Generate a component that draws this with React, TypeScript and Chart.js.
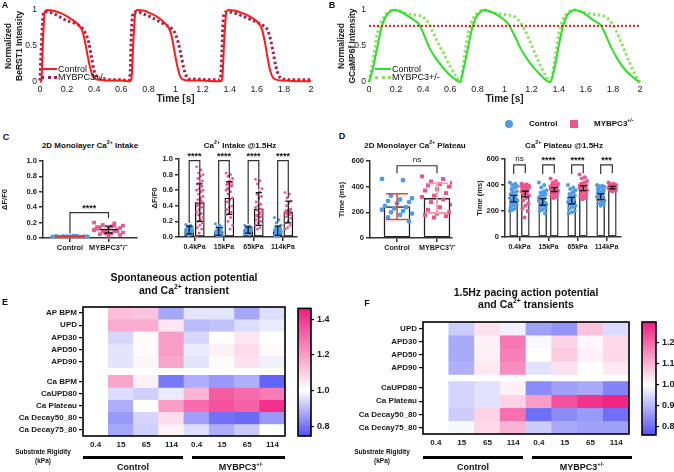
import React, { useEffect, useRef } from 'react';
import { Chart, registerables } from 'chart.js';

Chart.register(...registerables);
const FONT = "'Liberation Sans', Arial, Helvetica, sans-serif";
Chart.defaults.font.family = FONT;
Chart.defaults.color = '#1a1a1a';

// ---------------- Panel A data (BeRST1) ----------------
const tCtrlA = [0, 0.01, 0.02, 0.035, 0.05, 0.1, 0.15, 0.2, 0.25, 0.29, 0.31, 0.33, 0.35, 0.37, 0.39, 0.41, 0.45, 0.5, 0.6, 0.665,
  0.675, 0.69, 0.705, 0.72, 0.77, 0.82, 0.87, 0.92, 0.95, 0.97, 0.99, 1.01, 1.03, 1.05, 1.1, 1.2, 1.3, 1.335,
  1.345, 1.36, 1.375, 1.39, 1.44, 1.49, 1.54, 1.59, 1.62, 1.64, 1.66, 1.68, 1.7, 1.72, 1.75, 1.8, 1.9, 2.0];
const vCtrlA = [0, 0.02, 0.5, 0.97, 1.0, 0.99, 0.96, 0.91, 0.85, 0.78, 0.72, 0.58, 0.38, 0.2, 0.08, 0.04, 0.03, 0.02, 0.02, 0.01,
  0.05, 0.6, 0.98, 1.0, 0.99, 0.95, 0.9, 0.82, 0.75, 0.65, 0.45, 0.25, 0.1, 0.04, 0.02, 0.02, 0.01, 0.01,
  0.05, 0.6, 0.97, 1.0, 0.99, 0.96, 0.92, 0.86, 0.8, 0.72, 0.55, 0.33, 0.15, 0.06, 0.03, 0.02, 0.01, 0.01];
const tMybA = [0, 0.01, 0.025, 0.04, 0.1, 0.15, 0.2, 0.25, 0.3, 0.33, 0.36, 0.38, 0.4, 0.42, 0.45, 0.5, 0.6, 0.655,
  0.665, 0.675, 0.69, 0.72, 0.77, 0.82, 0.87, 0.92, 0.96, 0.99, 1.02, 1.04, 1.06, 1.08, 1.1, 1.15, 1.25, 1.33,
  1.34, 1.35, 1.365, 1.4, 1.45, 1.5, 1.55, 1.6, 1.65, 1.68, 1.7, 1.72, 1.74, 1.76, 1.78, 1.85, 1.95, 2.0];
const vMybA = [0.02, 0.5, 0.95, 0.98, 0.95, 0.9, 0.85, 0.82, 0.77, 0.7, 0.55, 0.35, 0.15, 0.06, 0.04, 0.03, 0.03, 0.02,
  0.1, 0.7, 0.97, 0.97, 0.94, 0.9, 0.85, 0.8, 0.76, 0.7, 0.55, 0.38, 0.2, 0.08, 0.04, 0.04, 0.03, 0.03,
  0.3, 0.8, 0.97, 0.97, 0.95, 0.91, 0.87, 0.83, 0.78, 0.72, 0.6, 0.42, 0.22, 0.1, 0.05, 0.03, 0.03, 0.03];

// ---------------- Panel B data (GCaMP6f) ----------------
const tCtrlB = [0, 0.03, 0.06, 0.09, 0.12, 0.15, 0.18, 0.22, 0.26, 0.3, 0.34, 0.37, 0.4, 0.45, 0.5, 0.55, 0.6, 0.65, 0.67,
  0.7, 0.73, 0.76, 0.79, 0.82, 0.85, 0.89, 0.93, 0.97, 1.0, 1.03, 1.07, 1.12, 1.17, 1.22, 1.27, 1.31, 1.335,
  1.37, 1.4, 1.43, 1.46, 1.49, 1.52, 1.56, 1.6, 1.64, 1.68, 1.71, 1.74, 1.79, 1.84, 1.89, 1.94, 1.98, 2.0];
const vCtrlB = [0, 0.2, 0.47, 0.74, 0.9, 0.97, 1.0, 0.99, 0.95, 0.9, 0.85, 0.8, 0.68, 0.46, 0.31, 0.19, 0.09, 0.02, 0,
  0.2, 0.47, 0.74, 0.9, 0.97, 1.0, 0.98, 0.95, 0.9, 0.86, 0.8, 0.66, 0.46, 0.31, 0.19, 0.09, 0.02, 0,
  0.2, 0.5, 0.76, 0.92, 0.98, 1.0, 0.98, 0.94, 0.88, 0.83, 0.79, 0.68, 0.47, 0.3, 0.17, 0.08, 0.02, 0];
const tMybB = [0, 0.03, 0.06, 0.09, 0.12, 0.15, 0.18, 0.22, 0.26, 0.3, 0.35, 0.4, 0.44, 0.47, 0.5, 0.55, 0.6, 0.65, 0.675,
  0.7, 0.73, 0.76, 0.79, 0.82, 0.85, 0.89, 0.93, 0.98, 1.03, 1.08, 1.12, 1.15, 1.18, 1.22, 1.26, 1.3, 1.34,
  1.37, 1.4, 1.43, 1.46, 1.49, 1.52, 1.56, 1.6, 1.65, 1.7, 1.75, 1.79, 1.82, 1.85, 1.89, 1.93, 1.97, 2.0];
const vMybB = [0, 0.3, 0.66, 0.84, 0.93, 0.98, 1.0, 0.98, 0.96, 0.94, 0.93, 0.9, 0.82, 0.7, 0.58, 0.4, 0.21, 0.06, 0,
  0.3, 0.66, 0.85, 0.94, 0.98, 1.0, 0.98, 0.96, 0.94, 0.93, 0.9, 0.82, 0.72, 0.6, 0.42, 0.25, 0.1, 0,
  0.3, 0.66, 0.86, 0.95, 0.99, 1.0, 0.98, 0.96, 0.94, 0.93, 0.9, 0.82, 0.73, 0.6, 0.42, 0.24, 0.08, 0];
const thresholdB = 0.78;

// ---------------- Panel C data (Ca intake, dF/F0) ----------------
const intake2DCtrl = [0.01, 0.02, 0.015, 0.02, 0.025, 0.01, 0.02, 0.018, 0.022, 0.012, 0.02, 0.015, 0.025, 0.02, 0.01, 0.018];
const intake2DMyb = [0.2, 0.19, 0.17, 0.16, 0.15, 0.14, 0.13, 0.12, 0.12, 0.11, 0.1, 0.1, 0.09, 0.08, 0.07, 0.06, 0.05, 0.04, 0.03, 0.14, 0.09, 0.06, 0.11, 0.16];
const intake2DMean = [0.018, 0.11];
const intake2DSd = [0.006, 0.045];

const groupLabels = ['0.4kPa', '15kPa', '65kPa', '114kPa'];
const intakeCtrl = [
  [0.16, 0.15, 0.14, 0.13, 0.12, 0.12, 0.11, 0.1, 0.1, 0.09, 0.09, 0.08, 0.08, 0.07, 0.07, 0.06, 0.06, 0.05, 0.05, 0.04, 0.03, 0.02, 0.1, 0.08, 0.11, 0.09],
  [0.17, 0.15, 0.13, 0.12, 0.1, 0.09, 0.08, 0.07, 0.06, 0.06, 0.05, 0.05, 0.04, 0.04, 0.03, 0.03, 0.02, 0.02, 0.01, 0.07, 0.05, 0.08],
  [0.15, 0.14, 0.13, 0.12, 0.12, 0.11, 0.11, 0.1, 0.1, 0.1, 0.09, 0.09, 0.09, 0.08, 0.08, 0.08, 0.07, 0.07, 0.06, 0.06, 0.05, 0.05, 0.04, 0.03, 0.1, 0.09, 0.11, 0.08],
  [0.25, 0.22, 0.18, 0.15, 0.13, 0.12, 0.11, 0.1, 0.1, 0.09, 0.09, 0.08, 0.08, 0.07, 0.07, 0.06, 0.06, 0.05, 0.05, 0.04, 0.04, 0.03, 0.02, 0.02, 0.01, 0.08, 0.07],
];
const intakeMyb = [
  [0.9, 0.86, 0.82, 0.8, 0.78, 0.75, 0.72, 0.7, 0.68, 0.65, 0.62, 0.6, 0.58, 0.55, 0.52, 0.5, 0.48, 0.45, 0.42, 0.4, 0.38, 0.35, 0.32, 0.3, 0.28, 0.25, 0.22, 0.2, 0.18, 0.15, 0.12, 0.1, 0.05, 0.0, 0.3, 0.42, 0.6, 0.47],
  [0.82, 0.8, 0.78, 0.75, 0.72, 0.7, 0.7, 0.68, 0.67, 0.65, 0.62, 0.6, 0.58, 0.55, 0.5, 0.48, 0.45, 0.4, 0.38, 0.35, 0.32, 0.3, 0.28, 0.25, 0.2, 0.15, 0.1, 0.62, 0.66, 0.71],
  [0.74, 0.72, 0.68, 0.62, 0.58, 0.55, 0.52, 0.5, 0.45, 0.42, 0.4, 0.38, 0.36, 0.34, 0.32, 0.3, 0.28, 0.26, 0.25, 0.22, 0.2, 0.18, 0.15, 0.12, 0.1, 0.35, 0.3, 0.27],
  [0.57, 0.55, 0.5, 0.46, 0.44, 0.4, 0.36, 0.34, 0.33, 0.33, 0.32, 0.31, 0.3, 0.3, 0.29, 0.28, 0.26, 0.24, 0.2, 0.18, 0.15, 0.12, 0.1, 0.35, 0.34],
];
const intakeMeanCtrl = [0.09, 0.07, 0.09, 0.08];
const intakeMeanMyb = [0.44, 0.5, 0.36, 0.32];
const intakeSdCtrl = [0.05, 0.05, 0.04, 0.06];
const intakeSdMyb = [0.24, 0.21, 0.21, 0.14];
const intakeSig = ['****', '****', '****', '****'];

// ---------------- Panel D data (Ca plateau, ms) ----------------
const plateau2DCtrl = [460, 450, 330, 310, 300, 290, 280, 270, 250, 240, 230, 220, 210, 200, 190, 180, 160, 130];
const plateau2DMyb = [480, 460, 440, 430, 420, 410, 400, 380, 370, 350, 330, 320, 300, 280, 260, 240, 220, 200, 190, 180, 170, 160];
const plateau2DMean = [245, 310];
const plateau2DSd = [100, 115];

const plateauCtrl = [
  [420, 410, 400, 390, 380, 370, 350, 340, 330, 320, 310, 300, 300, 290, 280, 270, 260, 250, 240, 230, 220, 210, 200, 380, 360],
  [420, 400, 380, 360, 350, 340, 330, 320, 310, 300, 290, 280, 270, 260, 250, 240, 230, 220, 210, 200, 180, 330, 300],
  [400, 380, 370, 360, 340, 330, 320, 310, 300, 290, 280, 270, 260, 250, 240, 230, 220, 200, 190, 180, 350, 300],
  [400, 395, 390, 385, 380, 370, 360, 350, 340, 330, 320, 310, 300, 290, 280, 270, 260, 250, 240, 370, 345],
];
const plateauMyb = [
  [410, 405, 400, 395, 390, 385, 380, 375, 370, 365, 360, 350, 340, 330, 320, 300, 280, 260, 240, 220, 200, 150, 390, 395, 385, 380],
  [450, 430, 420, 410, 400, 400, 395, 390, 385, 380, 375, 370, 365, 360, 355, 350, 345, 340, 330, 320, 310, 300, 390, 380],
  [480, 460, 450, 430, 420, 410, 400, 395, 390, 385, 380, 375, 370, 365, 360, 350, 340, 330, 320, 310, 300, 290, 395, 385],
  [420, 410, 405, 400, 395, 390, 390, 385, 385, 380, 380, 375, 375, 370, 370, 365, 360, 355, 350, 395, 388],
];
const plateauMeanCtrl = [295, 270, 280, 310];
const plateauMeanMyb = [330, 365, 375, 380];
const plateauSemCtrl = [25, 25, 25, 22];
const plateauSemMyb = [22, 15, 18, 10];
const plateauSig = ['ns', '****', '****', '***'];

// ---------------- Panel E heatmap (spontaneous) ----------------
const heatCols = ['0.4', '15', '65', '114', '0.4', '15', '65', '114'];
const eRowNames = ['AP BPM', 'UPD', 'APD30', 'APD50', 'APD90', 'Ca BPM', 'CaUPD80', 'Ca Plateau', 'Ca Decay50_80', 'Ca Decay75_80'];
const eApBpm = [1.0, 1.13, 1.12, 0.87, 0.96, 0.96, 0.87, 0.95];
const eUpd = [1.0, 1.17, 1.17, 1.05, 0.9, 0.91, 0.95, 0.97];
const eApd30 = [1.0, 0.94, 1.01, 1.2, 0.94, 1.0, 1.05, 1.0];
const eApd50 = [1.0, 0.96, 1.01, 1.2, 0.97, 1.03, 1.07, 1.01];
const eApd90 = [1.0, 0.96, 1.02, 1.18, 0.96, 1.01, 1.06, 0.98];
const eCaBpm = [1.0, 1.18, 1.03, 0.8, 0.88, 0.85, 0.88, 0.77];
const eCaUpd80 = [1.0, 0.95, 0.93, 0.97, 1.15, 1.33, 1.3, 1.27];
const eCaPlateau = [1.0, 0.88, 1.0, 1.2, 1.3, 1.35, 1.32, 1.42];
const eCaDecay50 = [1.0, 0.85, 0.94, 1.07, 0.86, 0.79, 0.78, 0.85];
const eCaDecay75 = [1.0, 0.87, 0.93, 1.03, 0.95, 0.88, 0.92, 1.0];
const eRange = [0.745, 1.46];
const eBarTicks = [0.8, 1.0, 1.2, 1.4];

// ---------------- Panel F heatmap (1.5 Hz pacing) ----------------
const fRowNames = ['UPD', 'APD30', 'APD50', 'APD90', 'CaUPD80', 'Ca Plateau', 'Ca Decay50_80', 'Ca Decay75_80'];
const fUpd = [1.0, 0.93, 1.04, 0.98, 0.87, 0.85, 1.08, 0.95];
const fApd30 = [1.0, 0.88, 1.02, 1.18, 0.99, 1.06, 1.01, 1.05];
const fApd50 = [1.0, 0.88, 1.02, 1.17, 1.0, 1.07, 1.02, 1.05];
const fApd90 = [1.0, 0.89, 1.03, 1.15, 0.96, 1.04, 1.0, 1.03];
const fCaUpd80 = [1.0, 0.94, 0.96, 1.02, 0.84, 0.87, 0.88, 0.83];
const fCaPlateau = [1.0, 0.94, 0.96, 1.06, 1.13, 1.23, 1.27, 1.29];
const fCaDecay50 = [1.0, 0.93, 1.06, 1.19, 0.8, 0.84, 0.86, 0.8];
const fCaDecay75 = [1.0, 0.99, 1.05, 1.1, 0.93, 0.88, 0.87, 0.87];
const fRange = [0.76, 1.3];
const fBarTicks = [0.8, 0.9, 1.0, 1.1, 1.2];

// ---------------- styling ----------------
const BLUE_PT = '#4d9ce9';
const PINK_PT = '#f0528c';
const HEAT_BLUE = [82, 82, 245];
const HEAT_PINK = [240, 28, 128];

const zip = (t: number[], v: number[]) => t.map((x, i) => ({ x, y: v[i] }));
const jit = (i: number, spread: number) => ((((i * 7) % 11) / 10) - 0.5) * spread;
const pts = (vals: number[], cx: number, spread: number) => vals.map((v, i) => ({ x: cx + jit(i, spread), y: v }));

function heatColor(v: number, vmin: number, vmax: number) {
  let t: number, c: number[];
  if (v < 1) { t = Math.min(1, (1 - v) / (1 - vmin)); c = HEAT_BLUE; }
  else { t = Math.min(1, (v - 1) / (vmax - 1)); c = HEAT_PINK; }
  const m = (k: number) => Math.round(255 + (c[k] - 255) * t);
  return `rgb(${m(0)},${m(1)},${m(2)})`;
}

function annotPlugin(errs: any[], brackets: any[]) {
  return {
    id: 'annot',
    afterDatasetsDraw(chart: any) {
      const { ctx } = chart;
      const xs = chart.scales.x, ys = chart.scales.y;
      ctx.save();
      for (const e of errs) {
        const px = xs.getPixelForValue(e.x);
        const pm = ys.getPixelForValue(e.mean);
        const pt = ys.getPixelForValue(e.mean + e.err);
        const pb = ys.getPixelForValue(Math.max(e.mean - e.err, ys.min));
        ctx.strokeStyle = e.color; ctx.lineWidth = e.lw;
        ctx.beginPath();
        ctx.moveTo(px, pt); ctx.lineTo(px, pb);
        if (e.capW) {
          ctx.moveTo(px - e.capW / 2, pt); ctx.lineTo(px + e.capW / 2, pt);
          ctx.moveTo(px - e.capW / 2, pb); ctx.lineTo(px + e.capW / 2, pb);
        }
        if (e.meanW) { ctx.moveTo(px - e.meanW / 2, pm); ctx.lineTo(px + e.meanW / 2, pm); }
        ctx.stroke();
      }
      for (const b of brackets) {
        const x1 = xs.getPixelForValue(b.x1), x2 = xs.getPixelForValue(b.x2);
        const yt = ys.getPixelForValue(b.top), y1 = ys.getPixelForValue(b.y1), y2 = ys.getPixelForValue(b.y2);
        ctx.strokeStyle = '#333'; ctx.lineWidth = 1.2;
        ctx.beginPath(); ctx.moveTo(x1, y1); ctx.lineTo(x1, yt); ctx.lineTo(x2, yt); ctx.lineTo(x2, y2); ctx.stroke();
        ctx.fillStyle = '#111';
        const ns = b.text === 'ns';
        ctx.font = `${ns ? 'normal' : 'bold'} ${ns ? 8 : 9}px ${FONT}`;
        ctx.textAlign = 'center'; ctx.textBaseline = 'bottom';
        ctx.fillText(b.text, (x1 + x2) / 2, yt - (ns ? 2 : 0));
      }
      ctx.restore();
    },
  };
}

const boxPlugin = {
  id: 'box',
  afterDatasetsDraw(chart: any) {
    const { ctx, chartArea: a } = chart;
    ctx.save();
    ctx.strokeStyle = '#000'; ctx.lineWidth = 1.6;
    ctx.strokeRect(a.left, a.top, a.right - a.left, a.bottom - a.top);
    ctx.restore();
  },
};

function traceConfig(o: any) {
  const datasets: any[] = o.sets.map((s: any) => ({
    type: 'line', data: zip(s.t, s.v), borderColor: s.color, borderWidth: s.width,
    borderDash: s.dash || [], borderCapStyle: 'butt', pointRadius: 0, cubicInterpolationMode: 'monotone',
    clip: 4, fill: false, order: 2,
  }));
  if (o.threshold !== undefined) {
    datasets.push({
      type: 'line', data: [{ x: 0, y: o.threshold }, { x: 2, y: o.threshold }], borderColor: '#ff1010',
      borderWidth: 2, borderDash: [2, 2], pointRadius: 0, order: 0,
    });
  }
  return {
    type: 'line',
    data: { datasets },
    options: {
      responsive: false, animation: false, events: [],
      layout: { padding: { top: 10, right: o.padRight, left: 0, bottom: 5 } },
      plugins: { legend: { display: false }, tooltip: { enabled: false } },
      scales: {
        x: {
          type: 'linear', min: 0, max: 2,
          ticks: { stepSize: 0.2, font: { size: 9 }, color: '#222', padding: 2, maxRotation: 0, autoSkip: false,
            callback: (v: number) => `${Math.round(v * 10) / 10}` },
          grid: { display: false, drawTicks: false, tickLength: 0 }, border: { display: false },
          title: { display: true, text: 'Time [s]', font: { size: 10, weight: 'bold' }, color: '#222', padding: { top: 0, bottom: 0 } },
          afterFit: (s: any) => { s.height = 23; },
        },
        y: {
          min: 0, max: 1,
          ticks: { stepSize: 0.5, font: { size: 8.5 }, color: '#222', padding: 3, callback: (v: number) => `${v}` },
          grid: { display: false, drawTicks: false, tickLength: 0 }, border: { display: false },
          title: { display: true, text: o.yTitle, font: { size: 8.5, weight: 'bold' }, color: '#222', padding: { top: o.titlePad, bottom: 0 } },
          afterFit: (s: any) => { s.width = o.yWidth; },
        },
      },
    },
  };
}

function statConfig(o: any) {
  const datasets: any[] = [];
  (o.bars || []).forEach((b: any) => datasets.push({
    type: 'bar', data: b.xs.map((x: number, i: number) => ({ x, y: b.means[i] })), backgroundColor: '#fff',
    borderColor: b.border, borderWidth: b.bw, borderSkipped: false, grouped: false,
    barPercentage: 1, categoryPercentage: 1, maxBarThickness: b.thick, order: 3,
  }));
  o.scatters.forEach((s: any) => datasets.push({
    type: 'scatter', data: s.data, pointStyle: s.style, pointRadius: s.r, pointBackgroundColor: s.color,
    pointBorderWidth: 0, order: 2,
  }));
  const axisCol = '#333';
  return {
    type: 'scatter',
    data: { datasets },
    options: {
      responsive: false, animation: false, events: [],
      layout: { padding: { top: o.padTop, right: o.padRight, left: 0, bottom: 0 } },
      plugins: { legend: { display: false }, tooltip: { enabled: false } },
      scales: {
        x: {
          type: 'linear', min: o.xMin, max: o.xMax, offset: false,
          afterBuildTicks: (s: any) => { s.ticks = o.groupX.map((v: number) => ({ value: v })); },
          ticks: { callback: (_v: any, i: number) => o.groupLabels[i], font: { size: o.xFont, weight: 'bold' }, color: '#1a1a1a',
            maxRotation: 0, autoSkip: false, padding: 2 },
          grid: { drawOnChartArea: false, offset: false, tickLength: 4, color: axisCol, lineWidth: 1.5 },
          border: { color: axisCol, width: 1.5 },
          afterFit: (s: any) => { s.height = o.xHeight; s.paddingLeft = 0; s.paddingRight = 0; },
        },
        y: {
          type: 'linear', min: o.yMin, max: o.yMax, beginAtZero: true,
          afterBuildTicks: (s: any) => { s.ticks = o.yTicks.map((v: number) => ({ value: v })); },
          ticks: { callback: (v: number) => o.fmt(v), font: { size: 7.5, weight: 'bold' }, color: '#1a1a1a', padding: 2 },
          grid: { drawOnChartArea: false, tickLength: 4, color: axisCol, lineWidth: 1.5 },
          border: { color: axisCol, width: 1.5 },
          title: { display: true, text: o.yTitle, font: { size: 7.5, weight: 'bold' }, color: '#1a1a1a', padding: { top: 0, bottom: 2 } },
          afterFit: (s: any) => { s.width = o.yWidth; s.paddingTop = 0; s.paddingBottom = 0; },
        },
      },
    },
    plugins: [annotPlugin(o.errs, o.brackets)],
  };
}

function heatConfig(o: any) {
  const datasets = o.values.map((vals: number[], r: number) => ({
    type: 'bar',
    data: vals.map(() => [o.starts[r], o.starts[r] + 1]),
    backgroundColor: vals.map((v) => heatColor(v, o.range[0], o.range[1])),
    barPercentage: 1, categoryPercentage: 1, grouped: false, borderWidth: 0,
  }));
  const centers = o.starts.map((s: number) => s + 0.5);
  return {
    type: 'bar',
    data: { labels: heatCols, datasets },
    options: {
      responsive: false, animation: false, events: [],
      layout: { padding: { top: o.padTop, right: o.padRight, left: 0, bottom: 0 } },
      plugins: { legend: { display: false }, tooltip: { enabled: false } },
      scales: {
        x: {
          type: 'category', grid: { display: false, drawTicks: false, tickLength: 0 }, border: { display: false },
          ticks: { font: { size: 8, weight: 'bold' }, color: '#1a1a1a', padding: 4, maxRotation: 0, autoSkip: false },
          afterFit: (s: any) => { s.height = o.xHeight; },
        },
        y: {
          type: 'linear', reverse: true, min: 0, max: o.yMax,
          afterBuildTicks: (s: any) => { s.ticks = centers.map((v: number) => ({ value: v })); },
          ticks: { callback: (_v: any, i: number) => o.names[i], font: { size: 8, weight: 'bold' }, color: '#1a1a1a', padding: 2, autoSkip: false },
          grid: { drawOnChartArea: false, drawTicks: true, tickLength: 4, color: '#000', lineWidth: 1.2 },
          border: { display: false },
          afterFit: (s: any) => { s.width = o.yWidth; },
        },
      },
    },
    plugins: [boxPlugin],
  };
}

function colorbarConfig(o: any) {
  const [vmin, vmax] = o.range;
  return {
    type: 'bar',
    data: {
      labels: [''],
      datasets: [{
        data: [[vmin, vmax]], barPercentage: 1, categoryPercentage: 1, borderWidth: 0,
        backgroundColor: (c: any) => {
          const a = c.chart.chartArea;
          if (!a) return '#fff';
          const g = c.chart.ctx.createLinearGradient(0, a.bottom, 0, a.top);
          g.addColorStop(0, `rgb(${HEAT_BLUE.join(',')})`);
          g.addColorStop((1 - vmin) / (vmax - vmin), '#ffffff');
          g.addColorStop(1, `rgb(${HEAT_PINK.join(',')})`);
          return g;
        },
      }],
    },
    options: {
      responsive: false, animation: false, events: [],
      layout: { padding: { top: o.padTop, right: 0, left: 8, bottom: o.padBottom } },
      plugins: { legend: { display: false }, tooltip: { enabled: false } },
      scales: {
        x: { display: false },
        y: {
          position: 'right', min: vmin, max: vmax,
          afterBuildTicks: (s: any) => { s.ticks = o.ticks.map((v: number) => ({ value: v })); },
          ticks: { callback: (v: number) => v.toFixed(1), font: { size: 9, weight: 'bold' }, color: '#1a1a1a', padding: 3 },
          grid: { drawOnChartArea: false, tickLength: 3, color: '#000', lineWidth: 1.2 },
          border: { display: false },
          afterFit: (s: any) => { s.width = o.yWidth; },
        },
      },
    },
    plugins: [boxPlugin],
  };
}

function ChartBox({ left, top, width, height, make }: any) {
  const ref = useRef<HTMLCanvasElement>(null);
  useEffect(() => {
    const chart = new Chart(ref.current as HTMLCanvasElement, make());
    return () => chart.destroy();
  }, []);
  return (
    <div style={{ position: 'absolute', left, top, width, height }}>
      <canvas ref={ref} width={width} height={height} style={{ width, height, display: 'block' }} />
    </div>
  );
}

function Txt({ x, y, size = 8, bold = true, align = 'center', children }: any) {
  const tx = align === 'center' ? '-50%' : align === 'right' ? '-100%' : '0';
  return (
    <div style={{ position: 'absolute', left: x, top: y, transform: `translate(${tx},-50%)`, fontSize: size,
      fontWeight: bold ? 700 : 400, whiteSpace: 'nowrap', lineHeight: 1, color: '#111' }}>{children}</div>
  );
}
const Sup = ({ children }: any) => (
  <sup style={{ fontSize: '0.65em', verticalAlign: 'super', lineHeight: 0 }}>{children}</sup>
);

function LegendLine({ x, y, w, color, dotted, thick }: any) {
  return <div style={{ position: 'absolute', left: x, top: y - thick / 2, width: w, height: 0,
    borderTop: `${thick}px ${dotted ? 'dotted' : 'solid'} ${color}` }} />;
}

export default function App() {
  const gx = [0, 1, 2, 3];
  const cOff = 0.18;
  const dOff = 0.2;

  const makeA = () => traceConfig({
    yTitle: ['Normalized', 'BeRST1 Intensity'], yWidth: 40, padRight: 19, titlePad: 4,
    sets: [
      { t: tCtrlA, v: vCtrlA, color: '#ff1a1a', width: 2 },
      { t: tMybA, v: vMybA, color: '#a8204a', width: 3, dash: [2.5, 2.5] },
    ],
  });
  const makeB = () => traceConfig({
    yTitle: ['Normalized', 'GCaMP6f Intensity'], yWidth: 32, padRight: 27, threshold: thresholdB, titlePad: 0,
    sets: [
      { t: tCtrlB, v: vCtrlB, color: '#2be02b', width: 2 },
      { t: tMybB, v: vMybB, color: '#8ee45e', width: 3, dash: [2.5, 2.5] },
    ],
  });

  const makeCL = () => statConfig({
    xMin: -0.7, xMax: 1.74, groupX: [0, 1], groupLabels: ['Control', 'MYBPC3⁺/⁻'], xFont: 7.4,
    yMin: 0, yMax: 1, yTicks: [0, 0.2, 0.4, 0.6, 0.8, 1.0], fmt: (v: number) => v.toFixed(1), yTitle: 'ΔF/F0',
    yWidth: 43, xHeight: 22, padTop: 11, padRight: 8,
    scatters: [
      { data: pts(intake2DCtrl, 0, 0.9), style: 'circle', r: 2.3, color: BLUE_PT },
      { data: pts(intake2DMyb, 1, 0.75), style: 'rect', r: 2.6, color: PINK_PT },
    ],
    errs: [
      { x: 0, mean: intake2DMean[0], err: intake2DSd[0], color: '#e0303a', capW: 0, meanW: 30, lw: 2 },
      { x: 1, mean: intake2DMean[1], err: intake2DSd[1], color: '#111', capW: 8, meanW: 18, lw: 1.3 },
    ],
    brackets: [{ x1: 0, x2: 1, top: 0.33, y1: 0.06, y2: 0.26, text: '****' }],
  });

  const makeCR = () => statConfig({
    xMin: -0.525, xMax: 3.475, groupX: gx, groupLabels, xFont: 7,
    yMin: 0, yMax: 1, yTicks: [0, 0.2, 0.4, 0.6, 0.8, 1.0], fmt: (v: number) => v.toFixed(1), yTitle: 'ΔF/F0',
    yWidth: 29, xHeight: 23, padTop: 11, padRight: 13,
    bars: [
      { xs: gx.map((g) => g - cOff), means: intakeMeanCtrl, border: '#111', bw: 1.3, thick: 9 },
      { xs: gx.map((g) => g + cOff), means: intakeMeanMyb, border: '#111', bw: 1.3, thick: 9 },
    ],
    scatters: [
      ...intakeCtrl.map((vals, g) => ({ data: pts(vals, g - cOff, 0.22), style: 'circle', r: 1.6, color: BLUE_PT })),
      ...intakeMyb.map((vals, g) => ({ data: pts(vals, g + cOff, 0.22), style: 'circle', r: 1.4, color: PINK_PT })),
    ],
    errs: [
      ...gx.map((g) => ({ x: g - cOff, mean: intakeMeanCtrl[g], err: intakeSdCtrl[g], color: '#111', capW: 6, meanW: 0, lw: 1.2 })),
      ...gx.map((g) => ({ x: g + cOff, mean: intakeMeanMyb[g], err: intakeSdMyb[g], color: '#111', capW: 6, meanW: 0, lw: 1.2 })),
    ],
    brackets: gx.map((g) => ({ x1: g - cOff, x2: g + cOff, top: 0.98, y1: intakeMeanCtrl[g] + intakeSdCtrl[g] + 0.04,
      y2: intakeMeanMyb[g] + intakeSdMyb[g] + 0.04, text: intakeSig[g] })),
  });

  const makeDL = () => statConfig({
    xMin: -0.675, xMax: 1.375, groupX: [0, 1], groupLabels: ['Control', 'MYBPC3⁺/⁻'], xFont: 7.2,
    yMin: 0, yMax: 600, yTicks: [0, 200, 400, 600], fmt: (v: number) => `${v}`, yTitle: 'Time (ms)',
    yWidth: 33, xHeight: 22, padTop: 11, padRight: 10,
    bars: [{ xs: [0, 1], means: plateau2DMean, border: '#222', bw: 1.5, thick: 26 }],
    scatters: [
      { data: pts(plateau2DCtrl, 0, 0.75), style: 'circle', r: 2.4, color: BLUE_PT },
      { data: pts(plateau2DMyb, 1, 0.75), style: 'rect', r: 2.8, color: PINK_PT },
    ],
    errs: [
      { x: 0, mean: plateau2DMean[0], err: plateau2DSd[0], color: '#e5423a', capW: 22, meanW: 0, lw: 1.5 },
      { x: 1, mean: plateau2DMean[1], err: plateau2DSd[1], color: '#f2a2a2', capW: 22, meanW: 0, lw: 1.8 },
    ],
    brackets: [{ x1: 0, x2: 1, top: 563, y1: 505, y2: 505, text: 'ns' }],
  });

  const makeDR = () => statConfig({
    xMin: -0.5, xMax: 3.5, groupX: gx, groupLabels, xFont: 7,
    yMin: 0, yMax: 600, yTicks: [0, 200, 400, 600], fmt: (v: number) => `${v}`, yTitle: 'Time (ms)',
    yWidth: 30, xHeight: 23, padTop: 11, padRight: 14,
    bars: [
      { xs: gx.map((g) => g - dOff), means: plateauMeanCtrl, border: '#444', bw: 1.5, thick: 8 },
      { xs: gx.map((g) => g + dOff), means: plateauMeanMyb, border: '#444', bw: 1.5, thick: 8 },
    ],
    scatters: [
      ...plateauCtrl.map((vals, g) => ({ data: pts(vals, g - dOff, 0.26), style: 'circle', r: 2, color: BLUE_PT })),
      ...plateauMyb.map((vals, g) => ({ data: pts(vals, g + dOff, 0.26), style: 'circle', r: 2, color: PINK_PT })),
    ],
    errs: [
      ...gx.map((g) => ({ x: g - dOff, mean: plateauMeanCtrl[g], err: plateauSemCtrl[g], color: '#111', capW: 7, meanW: 0, lw: 1.3 })),
      ...gx.map((g) => ({ x: g + dOff, mean: plateauMeanMyb[g], err: plateauSemMyb[g], color: '#111', capW: 7, meanW: 0, lw: 1.3 })),
    ],
    brackets: gx.map((g) => ({ x1: g - dOff, x2: g + dOff, top: 555, y1: 485, y2: 490, text: plateauSig[g] })),
  });

  const makeE = () => heatConfig({
    names: eRowNames,
    values: [eApBpm, eUpd, eApd30, eApd50, eApd90, eCaBpm, eCaUpd80, eCaPlateau, eCaDecay50, eCaDecay75],
    starts: [0, 1, 2, 3, 4, 5.63, 6.63, 7.63, 8.63, 9.63], yMax: 10.63, range: eRange,
    yWidth: 83, xHeight: 19, padTop: 7, padRight: 10,
  });
  const makeEBar = () => colorbarConfig({ range: eRange, ticks: eBarTicks, padTop: 7, padBottom: 9, yWidth: 29 });

  const makeF = () => heatConfig({
    names: fRowNames,
    values: [fUpd, fApd30, fApd50, fApd90, fCaUpd80, fCaPlateau, fCaDecay50, fCaDecay75],
    starts: [0, 1, 2, 3, 4.54, 5.54, 6.54, 7.54], yMax: 8.54, range: fRange,
    yWidth: 86, xHeight: 21, padTop: 12, padRight: 8,
  });
  const makeFBar = () => colorbarConfig({ range: fRange, ticks: fBarTicks, padTop: 12, padBottom: 10, yWidth: 18 });

  return (
    <div style={{ position: 'absolute', left: 0, top: 0, width: 674, height: 472, background: '#fff', overflow: 'hidden', fontFamily: FONT }}>
      <ChartBox left={0} top={0} width={330} height={110} make={makeA} />
      <ChartBox left={337} top={0} width={330} height={110} make={makeB} />
      <ChartBox left={0} top={150} width={145} height={110} make={makeCL} />
      <ChartBox left={150} top={148} width={160} height={112} make={makeCR} />
      <ChartBox left={337} top={150} width={125} height={110} make={makeDL} />
      <ChartBox left={475} top={148} width={160} height={112} make={makeDR} />
      <ChartBox left={0} top={300} width={295} height={155} make={makeE} />
      <ChartBox left={290} top={300} width={50} height={145} make={makeEBar} />
      <ChartBox left={337} top={310} width={300} height={145} make={makeF} />
      <ChartBox left={634} top={310} width={40} height={135} make={makeFBar} />

      {/* panel letters */}
      <Txt x={5} y={5} size={9}>A</Txt>
      <Txt x={332} y={5} size={9}>B</Txt>
      <Txt x={6} y={137} size={9}>C</Txt>
      <Txt x={342} y={136} size={9}>D</Txt>
      <Txt x={5} y={302} size={9}>E</Txt>
      <Txt x={367} y={303} size={9}>F</Txt>

      {/* A/B legends */}
      <LegendLine x={41} y={69} w={16} color="#ff1a1a" thick={2} />
      <LegendLine x={41} y={77} w={16} color="#a8204a" thick={3} dotted />
      <Txt x={58} y={69} size={9} bold={false} align="left">Control</Txt>
      <Txt x={58} y={77} size={9} bold={false} align="left">MYBPC3+/-</Txt>
      <LegendLine x={375} y={69} w={16} color="#2be02b" thick={2} />
      <LegendLine x={375} y={77} w={16} color="#8ee45e" thick={3} dotted />
      <Txt x={392} y={69} size={9} bold={false} align="left">Control</Txt>
      <Txt x={392} y={77} size={9} bold={false} align="left">MYBPC3+/-</Txt>

      {/* C/D titles */}
      <Txt x={90} y={146} size={8}>2D Monolayer Ca<Sup>2+</Sup> Intake</Txt>
      <Txt x={240} y={146} size={8}>Ca<Sup>2+</Sup> Intake @1.5Hz</Txt>
      <Txt x={415} y={146} size={8}>2D Monolayer Ca<Sup>2+</Sup> Plateau</Txt>
      <Txt x={564} y={146} size={8}>Ca<Sup>2+</Sup> Plateau @1.5Hz</Txt>

      {/* D legend */}
      <div style={{ position: 'absolute', left: 505, top: 120, width: 8, height: 8, borderRadius: 4, background: BLUE_PT }} />
      <Txt x={529} y={124} size={8} align="left">Control</Txt>
      <div style={{ position: 'absolute', left: 570, top: 120, width: 8, height: 8, background: PINK_PT }} />
      <Txt x={594} y={124} size={8} align="left">MYBPC3<Sup>+/-</Sup></Txt>

      {/* E/F titles */}
      <Txt x={184} y={277} size={10.5}>Spontaneous action potential</Txt>
      <Txt x={184} y={290} size={10.5}>and Ca<Sup>2+</Sup> transient</Txt>
      <Txt x={526} y={292} size={10.5}>1.5Hz pacing action potential</Txt>
      <Txt x={526} y={304} size={10.5}>and Ca<Sup>2+</Sup> transients</Txt>

      {/* E/F group annotations */}
      <Txt x={43} y={452} size={6.5}>Substrate Rigidity</Txt>
      <Txt x={43} y={461} size={6.5}>(kPa)</Txt>
      <div style={{ position: 'absolute', left: 83, top: 456, width: 100, height: 3, background: '#000' }} />
      <div style={{ position: 'absolute', left: 192, top: 456, width: 93, height: 3, background: '#000' }} />
      <Txt x={133} y={467} size={9}>Control</Txt>
      <Txt x={241} y={467} size={9}>MYBPC3<Sup>+/-</Sup></Txt>

      <Txt x={382} y={452} size={6.5}>Substrate Rigidity</Txt>
      <Txt x={382} y={461} size={6.5}>(kPa)</Txt>
      <div style={{ position: 'absolute', left: 423, top: 456, width: 100, height: 3, background: '#000' }} />
      <div style={{ position: 'absolute', left: 532, top: 456, width: 100, height: 3, background: '#000' }} />
      <Txt x={473} y={467} size={9}>Control</Txt>
      <Txt x={582} y={467} size={9}>MYBPC3<Sup>+/-</Sup></Txt>
    </div>
  );
}
